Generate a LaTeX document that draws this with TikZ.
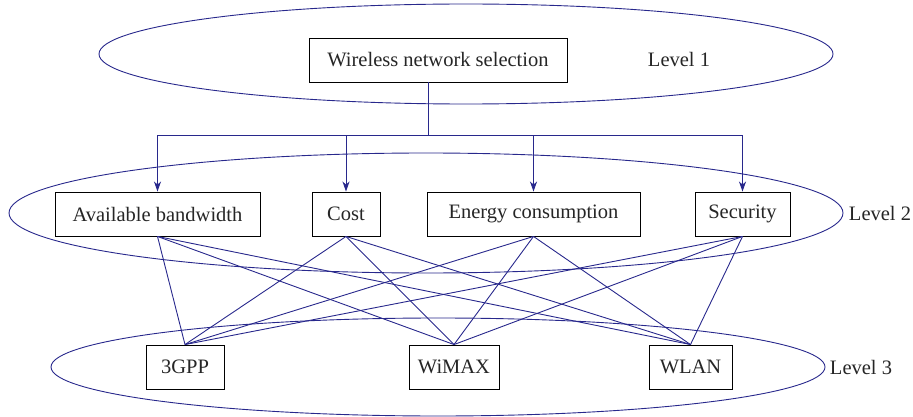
\documentclass[tikz,border=0pt]{standalone}
\usepackage{fontspec}
\setmainfont{Liberation Serif}
\usetikzlibrary{positioning,arrows.meta}
\definecolor{netblue}{RGB}{40,40,140}

\begin{document}
\begin{tikzpicture}[x=1pt,y=-1pt,
    box/.style={draw=black, line width=0.9pt, fill=white, inner sep=0pt,
        minimum height=44pt, text=black!85, font=\fontsize{20.5}{24}\selectfont},
    lvl/.style={text=black!85, font=\fontsize{20.5}{24}\selectfont},
    link/.style={draw=netblue, line width=0.9pt},
    ring/.style={draw=netblue, line width=0.9pt}]

\useasboundingbox (0,0) rectangle (913,417);

% level rings
\path[ring] (466,54) ellipse [x radius=367pt, y radius=50pt];
\path[ring] (426,213) ellipse [x radius=417pt, y radius=60pt];
\path[ring] (438,367) ellipse [x radius=387pt, y radius=49pt];

% goal
\node[box, minimum width=258pt] (wns) at (438,60) {Wireless network selection};
\node[lvl] (lv1) at (679,59) {Level 1};

% criteria
\node[box, minimum width=205pt] (ab) at (157.5,214) {Available bandwidth};
\node[box, minimum width=68pt] (cost) at (346,214) {Cost};
\node[box, minimum width=213pt] (energy) at (533.5,214) {Energy consumption};
\node[box, minimum width=95pt] (sec) at (742.5,214) {Security};
\node[lvl] (lv2) at (880,213) {Level 2};

% alternatives
\node[box, minimum width=78pt] (gpp) at (185,367) {3GPP};
\node[box, minimum width=90pt] (wimax) at (454,367) {WiMAX};
\node[box, minimum width=83pt] (wlan) at (690.5,367) {WLAN};
\node[lvl] (lv3) at (861,367) {Level 3};

\coordinate (bar) at (428,135);
\path[link] (wns.south -| bar) -- (bar);
\foreach \c in {ab,cost,energy,sec}
    \path[link, -{Stealth[length=10pt,width=7pt,inset=3pt]}] (bar) -| (\c.north);

\foreach \c in {ab,cost,energy,sec}
    \foreach \n in {gpp,wimax,wlan}
        \path[link] (\c.south) -- (\n.north);

\end{tikzpicture}
\end{document}
